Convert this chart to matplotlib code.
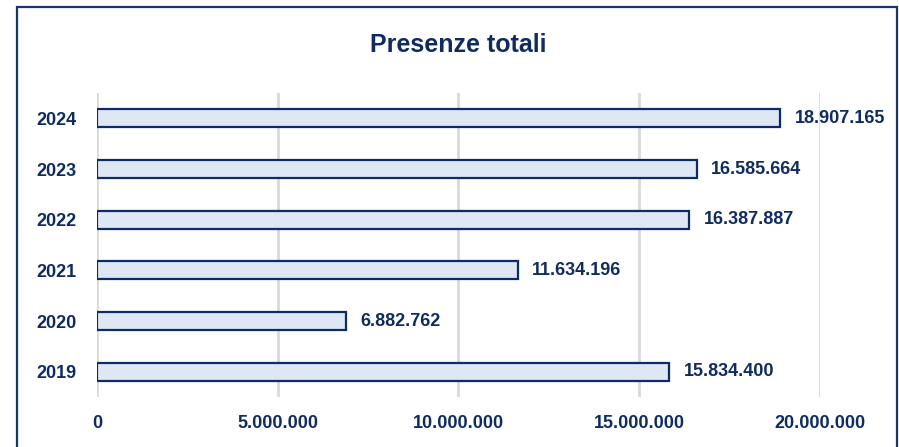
import matplotlib.pyplot as plt
from matplotlib.patches import Rectangle

# dati
anni = ['2019', '2020', '2021', '2022', '2023', '2024']
presenze = [15834400, 6882762, 11634196, 16387887, 16585664, 18907165]
tick_valori = [0, 5000000, 10000000, 15000000, 20000000]

NAVY = '#0f2b66'
FILL = '#dde8f4'


def fmt_it(v: int) -> str:
    """Numero con separatore delle migliaia all'italiana."""
    return f"{v:,}".replace(',', '.')


plt.rcParams['font.family'] = ['Liberation Sans', 'DejaVu Sans']
plt.rcParams['font.weight'] = 'bold'

fig = plt.figure(figsize=(8.99, 4.47), dpi=100)
W, H = 899, 447
ax = fig.add_axes([97 / W, 1 - 397 / H, (820 - 97) / W, (397 - 93) / H])

# cornice esterna (bordo inferiore fuori dall'immagine)
fig.patches.append(Rectangle((17 / W, -0.05), (897 - 17) / W, 1.05 - 7 / H,
                             transform=fig.transFigure, fill=False,
                             edgecolor='#1c3572', linewidth=1.6))

pos = range(len(anni))
ax.barh(pos, presenze, height=0.36, color=FILL, edgecolor=NAVY, linewidth=1.6, zorder=3)
for y, v in zip(pos, presenze):
    ax.annotate(fmt_it(v), (v, y), xytext=(10.5, 0), textcoords='offset points',
                va='center', ha='left', fontsize=13, fontweight='bold', color=NAVY)

ax.set_xlim(0, 20000000)
ax.set_ylim(-0.5, len(anni) - 0.5)
ax.set_yticks(list(pos))
ax.set_yticklabels(anni)
ax.set_xticks(tick_valori)
ax.set_xticklabels([fmt_it(t) for t in tick_valori])
ax.tick_params(length=0, labelsize=13, labelcolor=NAVY)
ax.tick_params(axis='x', pad=13)
ax.tick_params(axis='y', pad=15)
for lab in ax.get_xticklabels() + ax.get_yticklabels():
    lab.set_fontweight('bold')
ax.grid(axis='x', color='#d9d9d9', linewidth=2, zorder=0)
for s in ax.spines.values():
    s.set_visible(False)

fig.text(458 / W, 1 - 45 / H, 'Presenze totali', ha='center', va='center',
         fontsize=18, fontweight='bold', color=NAVY)

plt.savefig('out.png', dpi=100)
